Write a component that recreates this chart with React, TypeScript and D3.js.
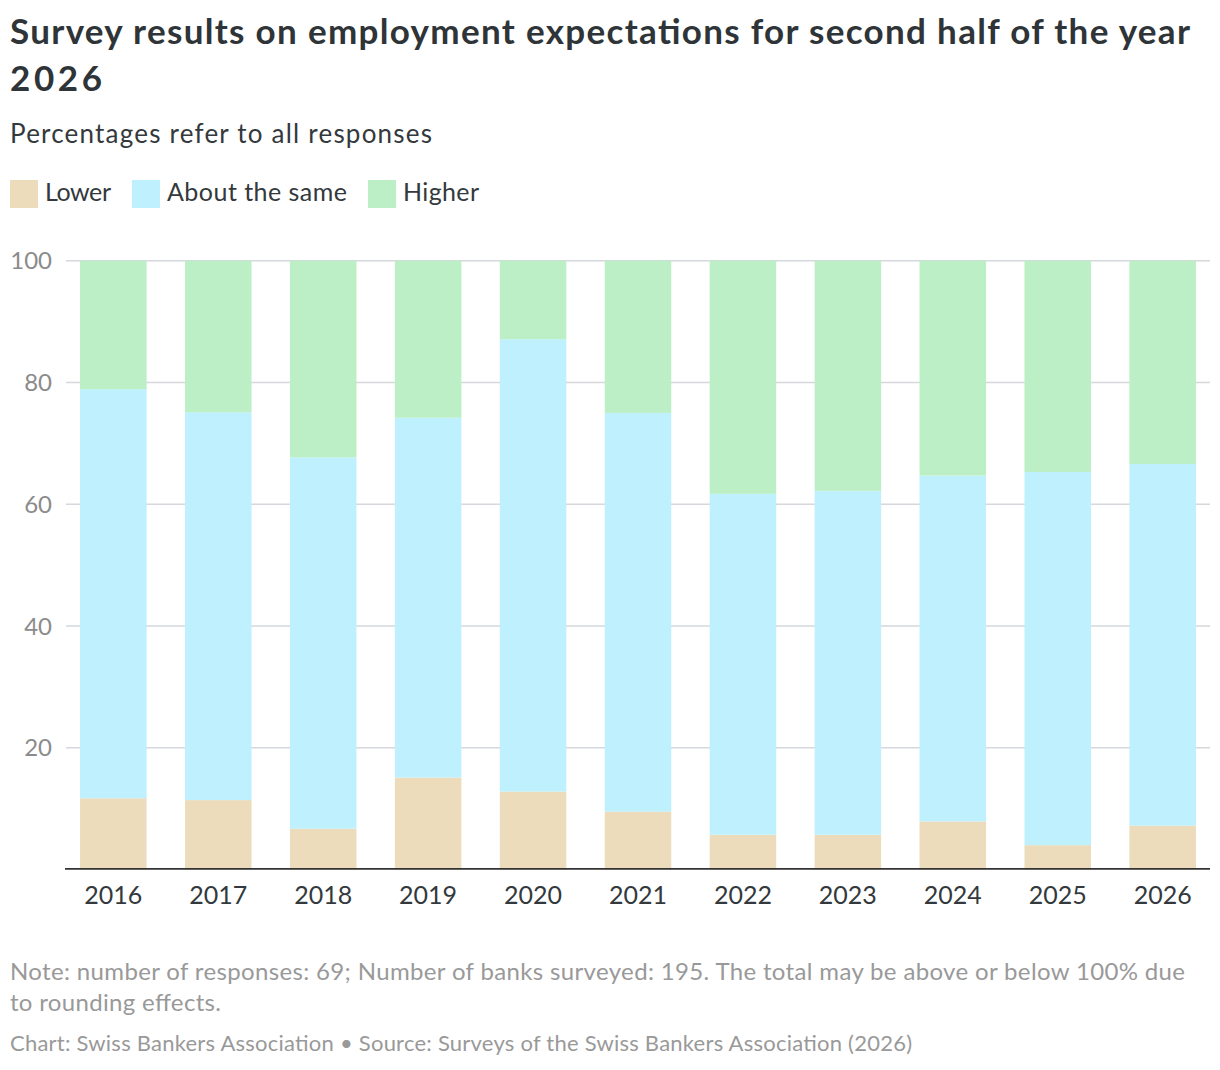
import * as d3 from "d3";

// values, percent of responses
const years = ["2016", "2017", "2018", "2019", "2020", "2021", "2022", "2023", "2024", "2025", "2026"];
const lower = [11.7, 11.4, 6.7, 15.1, 12.8, 9.5, 5.7, 5.7, 7.9, 4.0, 7.2];
const aboutSame = [67.2, 63.7, 61.0, 59.1, 74.3, 65.5, 56.0, 56.5, 56.8, 61.3, 59.4];
const higher = [21.1, 24.9, 32.3, 25.8, 12.9, 25.0, 38.3, 37.8, 35.3, 34.7, 33.4];
const yTicks = [20, 40, 60, 80, 100];

const seriesKeys = ["lower", "same", "higher"];
const seriesLabels = ["Lower", "About the same", "Higher"];
const colors = ["#ecdcbc", "#bef0fe", "#bcefc5"];

const W = 1220;
const H = 1070;
const FONT = "Lato, 'Noto Sans', sans-serif";

// legend placement: swatch x, label x, label width
const legendPos = [
  [10, 45, 66],
  [132, 167, 180],
  [368, 403, 76],
];

export default function App() {
  const rows = years.map((y, i) => ({ year: y, lower: lower[i], same: aboutSame[i], higher: higher[i] }));
  const stacked = d3.stack<any>().keys(seriesKeys)(rows);

  const x = d3.scaleBand().domain(years).range([66, 1210]).paddingInner(0.366).paddingOuter(0.134);
  const y = d3.scaleLinear().domain([0, 100]).range([869.5, 260.7]);

  return (
    <div style={{ position: "absolute", left: 0, top: 0 }}>
      <svg width={W} height={H} style={{ display: "block", background: "#fff" }} fontFamily={FONT}>
        <text x={10} y={44} fontSize={35} fontWeight={700} fill="#2e3437" textLength={1180}>
          Survey results on employment expectations for second half of the year
        </text>
        <text x={10} y={91} fontSize={35} fontWeight={700} fill="#2e3437" textLength={92}>
          2026
        </text>
        <text x={10} y={143} fontSize={26} fill="#33393c" textLength={422}>
          Percentages refer to all responses
        </text>

        {seriesLabels.map((lab, i) => (
          <g key={lab}>
            <rect x={legendPos[i][0]} y={180} width={28} height={28} fill={colors[i]} />
            <text x={legendPos[i][1]} y={201} fontSize={25} fill="#33393c" textLength={legendPos[i][2]}>
              {lab}
            </text>
          </g>
        ))}

        {yTicks.map((t) => (
          <g key={t}>
            <line x1={66} x2={1210} y1={y(t)} y2={y(t)} stroke="#d5d8dc" strokeWidth={1.4} />
            <text x={52} y={y(t)} dy="0.36em" textAnchor="end" fontSize={24} fill="#8b8b8b">
              {t}
            </text>
          </g>
        ))}

        {stacked.map((s, si) => (
          <g key={s.key} fill={colors[si]}>
            {s.map((d) => (
              <rect
                key={d.data.year}
                x={x(d.data.year)}
                width={x.bandwidth()}
                y={y(d[1])}
                height={y(d[0]) - y(d[1])}
              />
            ))}
          </g>
        ))}

        <line x1={65} x2={1210} y1={868.8} y2={868.8} stroke="#333" strokeWidth={1.8} />

        {years.map((yr) => (
          <text
            key={yr}
            x={(x(yr) ?? 0) + x.bandwidth() / 2}
            y={904}
            textAnchor="middle"
            fontSize={25}
            fill="#33393c"
          >
            {yr}
          </text>
        ))}

        <text x={10} y={980} fontSize={24} fill="#999" textLength={1175}>
          Note: number of responses: 69; Number of banks surveyed: 195. The total may be above or below 100% due
        </text>
        <text x={10} y={1011} fontSize={24} fill="#999" textLength={211}>
          to rounding effects.
        </text>
        <text x={10} y={1051} fontSize={22} fill="#999" textLength={902}>
          Chart: Swiss Bankers Association • Source: Surveys of the Swiss Bankers Association (2026)
        </text>
      </svg>
    </div>
  );
}
